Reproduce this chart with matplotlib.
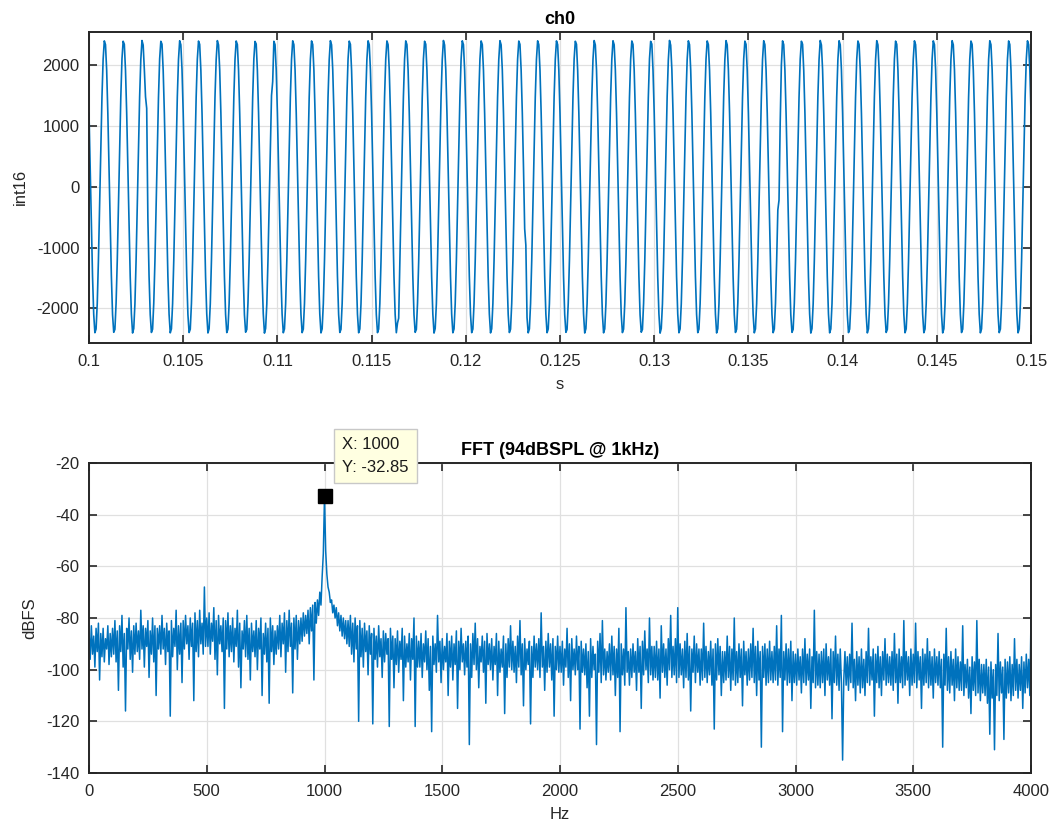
import numpy as np
import matplotlib
matplotlib.use("Agg")
import matplotlib.pyplot as plt
from matplotlib.ticker import FuncFormatter, MultipleLocator

plt.rcParams['font.family'] = ['Liberation Sans', 'DejaVu Sans']
plt.rcParams['axes.unicode_minus'] = False

# ---------------------------------------------------------------- data
# ch0 capture, int16 samples at 16 kHz, window 0.100 s .. 0.150 s
FS = 16000
T_START = 0.1
ch0_rows = [
    [1210, 316, -626, -1473, -2096, -2399, -2338, -1920, -1210, -316, 626, 1473, 2096, 2399, 2338, 1920],
    [1204, 321, -630, -1468, -2101, -2392, -2344, -1915, -1216, -309, 631, 1467, 2102, 2393, 2343, 1914],
    [1215, 310, -621, -1479, -2090, -2404, -2331, -1926, -1203, -322, 619, 1480, 2089, 2405, 2330, 1927],
    [1480, 1290, -520, -1466, -2103, -2395, -2341, -1912, -1218, -308, 633, 1466, 2103, 2392, 2345, 1913],
    [1208, 319, -628, -1475, -2094, -2401, -2336, -1922, -1207, -319, 623, 1476, 2093, 2401, 2335, 1923],
    [1213, 312, -623, -1470, -2099, -2396, -2342, -1917, -1212, -313, 629, 1470, 2099, 2396, 2341, 1917],
    [1206, 320, -631, -1477, -2092, -2403, -2334, -1924, -1205, -320, 621, 1478, 2091, 2403, 2333, 1925],
    [1211, 314, -624, -1471, -2098, -2397, -2340, -1918, -1211, -314, 628, 1471, 2097, 2397, 2339, 1918],
    [1203, 322, -632, -1467, -2102, -2391, -2346, -1913, -1217, -307, 634, 1465, 2104, 2390, 2347, 1912],
    [1216, 309, -620, -1480, -2089, -2406, -2329, -1927, -1202, -323, 618, 1500, 1730, 2392, 2337, 1921],
    [1209, 317, -627, -1474, -2095, -2400, -2337, -1921, -1209, -317, 625, 1474, 2095, 2400, 2337, 1921],
    [1212, 313, -624, -1472, -2097, -2398, -2339, -1919, -1211, -315, 627, 1472, 2097, 2398, 2339, 1919],
    [1205, 320, -630, -1476, -2093, -2402, -2335, -1923, -1206, -319, 622, 1477, 2092, 2402, 2334, 1924],
    [1214, 311, -622, -1469, -2100, -2395, -2343, -1916, -1213, -312, 630, 1469, 2100, 2395, 2342, 1916],
    [1207, 318, -628, -1474, -2095, -2400, -2337, -1921, -1208, -318, 624, 1475, 2094, 2400, 2336, 1922],
    [1210, 315, -625, -1472, -2097, -2398, -2339, -1919, -1210, -315, 626, 1472, 2096, 2398, 2338, 1920],
    [1212, 314, -624, -1471, -2098, -2399, -2240, -2160, -1210, -316, 626, 1473, 2096, 2399, 2338, 1920],
    [1204, 322, -631, -1467, -2102, -2393, -2345, -1913, -1217, -309, 632, 1467, 2102, 2393, 2344, 1914],
    [1215, 309, -620, -1479, -2090, -2405, -2331, -1926, -1203, -322, 619, 1479, 2090, 2405, 2331, 1926],
    [1208, 318, -629, -1474, -2095, -2400, -2337, -1921, -1209, -317, 625, 1474, 2095, 2400, 2337, 1921],
    [1211, 315, -625, -1472, -2097, -2398, -2339, -1919, -1211, -314, 627, 1472, 2097, 2398, 2339, 1919],
    [1206, 320, -630, -1476, -2093, -2402, -2335, -1923, -1206, -320, 622, 1477, 2092, 2402, 2334, 1924],
    [1213, 312, -623, -1470, -2099, -2396, -2341, -1917, -1213, -312, 629, 1470, 2099, 2396, 2341, 1917],
    [1209, 316, -690, -960, -2150, -2401, -2337, -1921, -1209, -317, 625, 1474, 2095, 2400, 2337, 1921],
    [1210, 316, -626, -1473, -2096, -2399, -2338, -1920, -1210, -316, 626, 1473, 2096, 2399, 2338, 1920],
    [1205, 321, -630, -1468, -2101, -2393, -2344, -1914, -1216, -310, 631, 1468, 2101, 2393, 2343, 1915],
    [1214, 310, -621, -1478, -2091, -2404, -2332, -1925, -1204, -321, 620, 1478, 2091, 2404, 2332, 1926],
    [1207, 319, -628, -1475, -2094, -2401, -2336, -1922, -1207, -319, 623, 1475, 2094, 2401, 2335, 1923],
    [1212, 313, -624, -1471, -2098, -2397, -2340, -1918, -1212, -313, 628, 1471, 2098, 2397, 2340, 1918],
    [1203, 322, -632, -1466, -2103, -2391, -2346, -1912, -1218, -307, 634, 1466, 2103, 2391, 2346, 1912],
    [1216, 308, -619, -1480, -2088, -2406, -2329, -1928, -1201, -324, 617, 1481, 2088, 2406, 2328, 1928],
    [1209, 317, -627, -1474, -2095, -2400, -2337, -1921, -1209, -317, 625, 1474, 2095, 2400, 2337, 1921],
    [1211, 314, -625, -1472, -2097, -2398, -2339, -1919, -1211, -315, 627, 1472, 2097, 2398, 2339, 1919],
    [1206, 320, -630, -1477, -2092, -2403, -2334, -1924, -1205, -320, 621, 1477, 2092, 2403, 2334, 1924],
    [1213, 312, -622, -1469, -2100, -2395, -2342, -1916, -1213, -312, 630, 1469, 2100, 2395, 2342, 1916],
    [1208, 318, -628, -1475, -2094, -2401, -2336, -1922, -1208, -318, 624, 1475, 2094, 2401, 2336, 1922],
    [1210, 315, -626, -1473, -2096, -2399, -2338, -1920, -1210, -380, -220, 1050, 2000, 2399, 2338, 1920],
    [1204, 321, -631, -1468, -2101, -2393, -2344, -1914, -1216, -310, 632, 1468, 2101, 2393, 2344, 1914],
    [1215, 310, -620, -1479, -2090, -2405, -2331, -1926, -1203, -322, 619, 1479, 2090, 2405, 2331, 1926],
    [1207, 319, -629, -1475, -2094, -2401, -2336, -1922, -1207, -319, 623, 1476, 2093, 2401, 2335, 1923],
    [1212, 313, -623, -1471, -2098, -2397, -2340, -1918, -1212, -313, 629, 1471, 2098, 2397, 2340, 1918],
    [1205, 320, -630, -1476, -2093, -2402, -2335, -1923, -1206, -320, 622, 1477, 2092, 2402, 2334, 1924],
    [1214, 311, -622, -1469, -2100, -2395, -2343, -1916, -1214, -311, 630, 1469, 2100, 2395, 2343, 1916],
    [1209, 317, -627, -1474, -2095, -2400, -2337, -1921, -1209, -317, 625, 1474, 2095, 2400, 2337, 1921],
    [1210, 316, -626, -1473, -2096, -2399, -2338, -1920, -1210, -316, 626, 1473, 2096, 2399, 2338, 1920],
    [1206, 320, -629, -1476, -2093, -2402, -2335, -1923, -1206, -320, 623, 1476, 2093, 2402, 2335, 1923],
    [1213, 312, -623, -1470, -2099, -2396, -2341, -1917, -1213, -312, 629, 1470, 2099, 2396, 2341, 1917],
    [1208, 318, -628, -1475, -2094, -2401, -2336, -1922, -1208, -318, 624, 1475, 2094, 2401, 2336, 1922],
    [1211, 314, -625, -1472, -2097, -2398, -2339, -1919, -1211, -314, 627, 1472, 2097, 2398, 2339, 1919],
    [1207, 319, -628, -1474, -2095, -2401, -2336, -1921, -1208, -318, 624, 1475, 2094, 2400, 2337, 1922],
]
ch0_last = [1210]

# magnitude spectrum in dBFS, one row per 100 Hz, 5 Hz bins
FFT_STEP = 5
fft_rows = [
    [-85, -96, -83, -94, -87, -99, -84, -93, -82, -104, -86, -95, -84, -97, -88, -92, -83, -98, -86, -95],
    [-84, -94, -81, -97, -85, -108, -83, -93, -79, -99, -86, -116, -84, -92, -80, -96, -85, -101, -83, -94],
    [-82, -93, -85, -96, -77, -92, -83, -99, -84, -91, -81, -103, -85, -94, -80, -97, -83, -110, -84, -92],
    [-83, -94, -79, -92, -84, -98, -82, -93, -85, -118, -81, -95, -84, -91, -77, -100, -83, -94, -82, -105],
    [-81, -92, -79, -90, -83, -96, -80, -91, -82, -112, -78, -93, -81, -95, -77, -90, -82, -94, -68, -91],
    [-80, -91, -78, -94, -82, -89, -76, -96, -81, -102, -79, -90, -83, -93, -80, -115, -81, -92, -78, -95],
    [-83, -93, -80, -97, -84, -91, -77, -99, -82, -107, -85, -92, -81, -95, -79, -96, -84, -104, -82, -93],
    [-85, -95, -81, -100, -84, -92, -80, -110, -86, -94, -82, -97, -84, -113, -80, -93, -83, -98, -85, -94],
    [-83, -92, -79, -95, -82, -90, -78, -101, -81, -93, -77, -91, -82, -109, -80, -92, -79, -96, -81, -90],
    [-80, -89, -78, -87, -79, -86, -77, -90, -76, -85, -75, -104, -74, -82, -73, -79, -70, -75, -64, -55],
    [-32.85, -54, -63, -68, -70, -74, -73, -78, -75, -80, -76, -83, -78, -85, -79, -87, -80, -88, -81, -90],
    [-81, -91, -79, -94, -82, -97, -80, -92, -83, -120, -81, -95, -84, -99, -82, -93, -85, -102, -83, -94],
    [-86, -121, -84, -96, -87, -99, -83, -95, -88, -103, -85, -97, -86, -94, -88, -122, -84, -96, -87, -107],
    [-88, -98, -85, -101, -89, -96, -84, -112, -87, -99, -90, -97, -86, -104, -88, -96, -80, -122, -87, -99],
    [-89, -99, -86, -103, -90, -97, -85, -100, -88, -108, -91, -124, -87, -98, -90, -101, -79, -97, -89, -105],
    [-88, -100, -91, -97, -86, -110, -89, -99, -87, -104, -90, -98, -85, -115, -89, -100, -84, -97, -90, -102],
    [-89, -99, -87, -129, -90, -103, -86, -98, -82, -100, -88, -107, -91, -97, -87, -101, -89, -113, -86, -98],
    [-90, -100, -88, -104, -91, -98, -86, -110, -89, -101, -92, -99, -87, -117, -90, -103, -88, -99, -83, -100],
    [-89, -101, -91, -105, -87, -99, -81, -102, -90, -114, -88, -100, -92, -98, -89, -121, -91, -103, -87, -99],
    [-90, -100, -88, -103, -78, -99, -91, -108, -89, -101, -86, -99, -90, -104, -88, -118, -91, -100, -87, -101],
    [-91, -101, -89, -106, -92, -99, -84, -103, -90, -112, -88, -100, -92, -102, -87, -100, -91, -123, -89, -101],
    [-92, -102, -90, -107, -93, -118, -88, -103, -91, -100, -94, -129, -89, -101, -86, -105, -81, -102, -92, -104],
    [-93, -101, -90, -104, -87, -102, -91, -110, -92, -103, -84, -124, -90, -102, -92, -106, -76, -101, -93, -106],
    [-92, -103, -90, -101, -93, -108, -88, -101, -91, -115, -89, -102, -85, -100, -92, -105, -80, -102, -91, -104],
    [-91, -103, -89, -104, -92, -111, -83, -101, -90, -103, -92, -106, -88, -100, -79, -103, -91, -102, -88, -105],
    [-76, -103, -90, -102, -92, -107, -89, -103, -86, -104, -91, -116, -92, -101, -87, -105, -90, -101, -92, -106],
    [-92, -104, -82, -103, -91, -105, -93, -102, -89, -106, -92, -123, -90, -104, -88, -102, -91, -110, -93, -105],
    [-93, -104, -87, -103, -91, -108, -92, -104, -80, -106, -93, -105, -90, -103, -92, -114, -89, -102, -93, -106],
    [-92, -104, -90, -103, -84, -105, -91, -110, -89, -104, -93, -130, -91, -103, -90, -106, -92, -105, -89, -104],
    [-93, -105, -91, -104, -83, -106, -92, -103, -79, -124, -93, -104, -90, -106, -92, -105, -89, -112, -93, -105],
    [-94, -106, -92, -104, -95, -109, -92, -105, -88, -106, -94, -104, -92, -115, -95, -105, -77, -107, -93, -106],
    [-94, -107, -93, -105, -92, -110, -90, -104, -95, -106, -92, -119, -93, -105, -87, -106, -94, -108, -92, -105],
    [-135, -104, -93, -106, -95, -108, -94, -105, -82, -107, -96, -112, -93, -106, -95, -109, -92, -107, -96, -110],
    [-93, -105, -84, -106, -95, -104, -92, -118, -94, -105, -91, -107, -95, -110, -93, -104, -88, -106, -94, -105],
    [-95, -106, -93, -108, -86, -105, -94, -113, -92, -105, -95, -107, -81, -106, -93, -104, -95, -110, -92, -106],
    [-94, -105, -82, -107, -93, -104, -95, -115, -92, -106, -94, -105, -88, -107, -93, -106, -95, -111, -92, -105],
    [-95, -106, -93, -107, -96, -130, -94, -106, -84, -108, -95, -109, -93, -106, -96, -112, -92, -107, -95, -108],
    [-97, -108, -83, -110, -98, -107, -96, -111, -99, -117, -95, -108, -97, -110, -81, -109, -96, -112, -98, -109],
    [-98, -110, -96, -113, -99, -125, -97, -111, -100, -131, -98, -110, -86, -112, -97, -109, -99, -127, -96, -111],
    [-97, -109, -95, -112, -98, -110, -88, -108, -96, -111, -98, -108, -95, -115, -97, -109, -94, -107, -96, -110],
]
fft_last = [-80]

ch0 = np.array([v for row in ch0_rows for v in row] + ch0_last, dtype=float)
t = T_START + np.arange(ch0.size) / FS

spec_db = np.array([v for row in fft_rows for v in row] + fft_last, dtype=float)
freq = np.arange(spec_db.size) * FFT_STEP

peak_i = int(np.argmax(spec_db))
peak_f, peak_db = freq[peak_i], spec_db[peak_i]

# ---------------------------------------------------------------- style
BLUE = '#0072BD'
AXC = '#262626'
GRIDC = '#E0E0E0'


def style_axes(ax):
    ax.set_axisbelow(True)
    ax.grid(True, color=GRIDC, linewidth=0.9)
    for sp in ax.spines.values():
        sp.set_color(AXC)
        sp.set_linewidth(1.4)
    ax.tick_params(which='both', direction='in', length=6, width=1.2,
                   top=True, right=True, colors=AXC, labelcolor=AXC,
                   labelsize=12)
    ax.tick_params(axis='x', pad=8)
    ax.tick_params(axis='y', pad=7)


fig = plt.figure(figsize=(10.53, 8.32), dpi=100)
W, H = 1053.0, 832.0

# top panel: time signal
ax1 = fig.add_axes([89 / W, 1 - 342.5 / H, (1031 - 89) / W, (342.5 - 32) / H])
ax1.plot(t, ch0, color=BLUE, linewidth=1.2)
ax1.set_xlim(0.1, 0.15)
ax1.set_ylim(-2560, 2545)
ax1.xaxis.set_major_locator(MultipleLocator(0.005))
ax1.yaxis.set_major_locator(MultipleLocator(1000))
ax1.xaxis.set_major_formatter(FuncFormatter(lambda v, p: f'{v:.3f}'.rstrip('0').rstrip('.')))
style_axes(ax1)
ax1.set_title('ch0', fontsize=13, fontweight='bold', color='k', pad=6)
ax1.set_xlabel('s', fontsize=12, color=AXC, labelpad=6)
ax1.set_ylabel('int16', fontsize=12, color=AXC, labelpad=6)

# bottom panel: spectrum
ax2 = fig.add_axes([89 / W, 1 - 773 / H, (1031 - 89) / W, (773 - 463) / H])
ax2.plot(freq, spec_db, color=BLUE, linewidth=1.1)
ax2.set_xlim(0, 4000)
ax2.set_ylim(-140, -20)
ax2.xaxis.set_major_locator(MultipleLocator(500))
ax2.yaxis.set_major_locator(MultipleLocator(20))
style_axes(ax2)
ax2.set_title('FFT (94dBSPL @ 1kHz)', fontsize=13, fontweight='bold', color='k', pad=6)
ax2.set_xlabel('Hz', fontsize=12, color=AXC, labelpad=6)
ax2.set_ylabel('dBFS', fontsize=12, color=AXC, labelpad=6)

# data cursor on the spectral peak
ax2.plot([peak_f], [peak_db], marker='s', markersize=10, color='k',
         linestyle='none', zorder=6, clip_on=False)
ax2.annotate(f'X: {peak_f:g}\nY: {peak_db:.2f}', xy=(peak_f, peak_db),
             xytext=(18, 40), textcoords='offset pixels',
             ha='left', va='center', fontsize=12, color='#1A1A1A', linespacing=1.65,
             bbox=dict(boxstyle='square,pad=0.5', fc='#FFFFE1', ec='#C8C8C8', lw=1),
             annotation_clip=False, zorder=10)

fig.savefig('out.png', dpi=100)
